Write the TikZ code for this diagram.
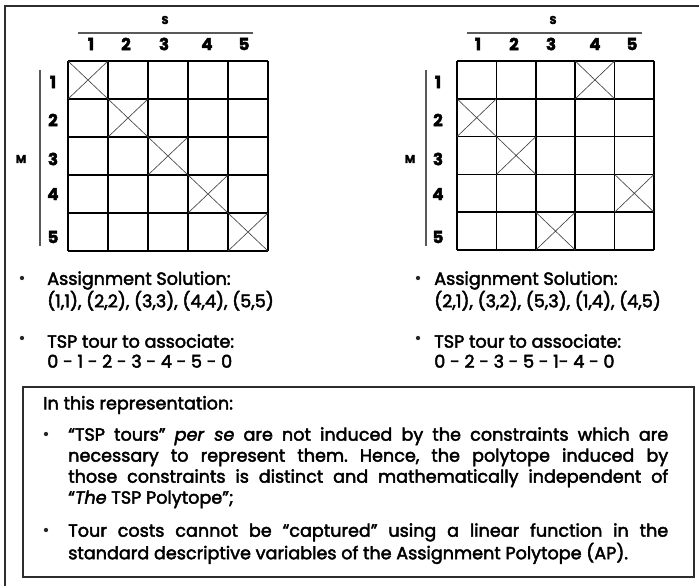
\documentclass[tikz,border=0pt]{standalone}
\usepackage{fontspec}
\setmainfont{Poppins}[FakeBold=2.5]
\usetikzlibrary{positioning}
\frenchspacing

\begin{document}
\begin{tikzpicture}[x=0.75pt, y=-0.75pt,
  every node/.style={font=\fontsize{13.2}{15}\selectfont, inner sep=0pt},
  idx/.style={font=\fontsize{12.5}{14}\selectfont\bfseries},
  axis/.style={font=\fontsize{8.5}{10}\selectfont\bfseries},
  cellgrid/.style={line width=1.1pt, black},
  pick/.style={line width=0.5pt, gray!55!black},
  rule/.style={line width=0.8pt, gray!70!black},
  frame/.style={line width=1.4pt, gray!35!black},
  dot/.style={circle, fill=black!85, minimum size=3.2pt},
  item/.style={anchor=west, align=left},
  para/.style={anchor=north west, align=justify, text width=450pt,
    font=\fontsize{13.2}{15.75}\selectfont}
]
\useasboundingbox (0,0) rectangle (699,586);
% Outer frame
\draw[frame] (5,586) -- (5,6) -- (699,6);

% Left matrix: identity assignment
\foreach \i in {0,...,5} {
  \draw[cellgrid] ({68+40*\i},61) -- ({68+40*\i},251);
  \draw[cellgrid] (68,{61+38*\i}) -- (268,{61+38*\i});
}
\foreach \r/\c in {1/1,2/2,3/3,4/4,5/5}
  \draw[pick] ({68+40*(\c-1)},{61+38*(\r-1)}) -- ++(40,38) ++(-40,0) -- ++(40,-38);
\node[axis] (sL) at (165,20) {S};
\draw[rule] (78,33) -- (253,33);
\foreach \c/\x in {1/91,2/126,3/164,4/207,5/244}
  \node[idx] (colL\c) at (\x,44) {\c};
\node[axis] (mL) at (21,159) {M};
\draw[rule] (40,70) -- (40,246);
\foreach \r/\y in {1/82,2/120,3/159,4/194,5/237}
  \node[idx] (rowL\r) at (53,\y) {\r};

% Right matrix: permuted assignment
\foreach \i in {0,...,5} {
  \draw[cellgrid] ({457+39.4*\i},61) -- ({457+39.4*\i},250);
  \draw[cellgrid] (457,{61+37.8*\i}) -- (654,{61+37.8*\i});
}
\foreach \r/\c in {1/4,2/1,3/2,4/5,5/3}
  \draw[pick] ({457+39.4*(\c-1)},{61+37.8*(\r-1)}) -- ++(39.4,37.8) ++(-39.4,0) -- ++(39.4,-37.8);
\node[axis] (sR) at (553,20) {S};
\draw[rule] (467,33) -- (642,33);
\foreach \c/\x in {1/478,2/514,3/551,4/595,5/632}
  \node[idx] (colR\c) at (\x,44) {\c};
\node[axis] (mR) at (410,159) {M};
\draw[rule] (426,70) -- (426,246);
\foreach \r/\y in {1/82,2/120,3/159,4/194,5/237}
  \node[idx] (rowR\r) at (438,\y) {\r};

% Solutions below each matrix
\node[dot] (bAL) at (22,278) {};
\node[item] (asgL) at (47,291) {Assignment Solution:\\(1,1), (2,2), (3,3), (4,4), (5,5)};
\node[dot] (bTL) at (22,338) {};
\node[item] (tourL) at (47,351) {TSP tour to associate:\\0 - 1 - 2 - 3 - 4 - 5 - 0};
\node[dot] (bAR) at (418,278) {};
\node[item] (asgR) at (434,291) {Assignment Solution:\\(2,1), (3,2), (5,3), (1,4), (4,5)};
\node[dot] (bTR) at (418,338) {};
\node[item] (tourR) at (434,351) {TSP tour to associate:\\0 - 2 - 3 - 5 - 1- 4 - 0};

% Remarks box
\draw[frame] (23,387) rectangle (694,577);
\node[anchor=west] (head) at (43,405) {In this representation:};
\node[dot] (b1) at (46,434) {};
\node[para] (rem1) at (68,427) {``TSP tours'' \textit{per se} are not induced by the constraints which are\linebreak
  necessary to represent them. Hence, the polytope induced by\linebreak
  those constraints is distinct and mathematically independent of\linebreak
  ``\textit{The} TSP Polytope'';};
\node[dot] (b2) at (46,530) {};
\node[para] (rem2) at (68,523) {Tour costs cannot be ``captured'' using a linear function in the\linebreak
  standard descriptive variables of the Assignment Polytope (AP).};
\end{tikzpicture}
\end{document}
